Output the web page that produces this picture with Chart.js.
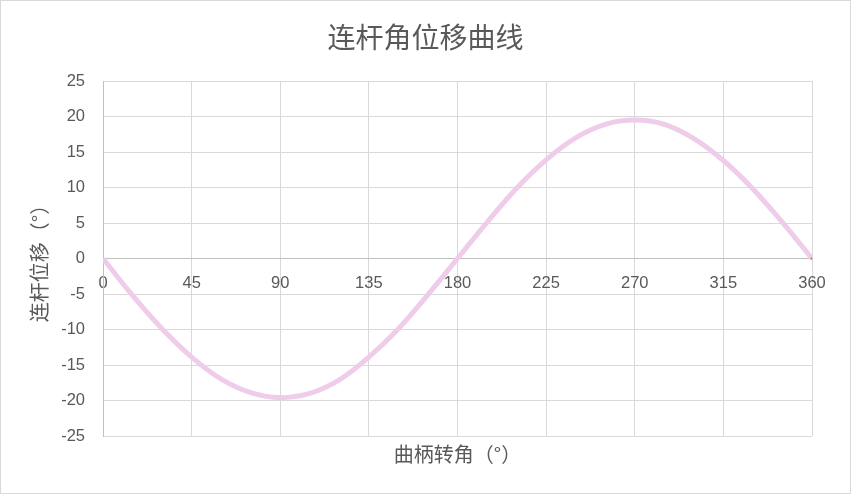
<!DOCTYPE html>
<html>
<head>
<meta charset="utf-8">
<script src="https://cdn.jsdelivr.net/npm/chart.js@4"></script>
<style>
  html, body { margin: 0; padding: 0; background: #ffffff; }
  #wrap { width: 851px; height: 494px; box-sizing: border-box; border: 1px solid #d9d9d9; position: relative; }
  canvas { display: block; }
</style>
</head>
<body>
<div id="wrap"><canvas id="linkChart" width="849" height="492"></canvas></div>
<script>
// 曲柄转角 (°) et déplacement angulaire de la bielle (°)
const crankAngles = [0, 15, 30, 45, 60, 75, 90, 105, 120, 135, 150, 165, 180,
                     195, 210, 225, 240, 255, 270, 285, 300, 315, 330, 345, 360];
const rodAngles = [0, -5.2, -9.9, -13.9, -17.0, -18.9, -19.6, -19.0, -17.1, -13.9, -9.9, -5.1, 0,
                   5.1, 9.9, 13.9, 17.0, 18.9, 19.5, 18.9, 16.9, 13.8, 9.8, 5.1, 0];
const xTicks = [0, 45, 90, 135, 180, 225, 270, 315, 360];
const yTicks = [-25, -20, -15, -10, -5, 0, 5, 10, 15, 20, 25];

const chartTitle = '连杆角位移曲线';
const textColor = '#595959';
const gridColor = '#d9d9d9';
const axisColor = '#bfbfbf';
const cjkFont = "'Noto Sans CJK SC', sans-serif";

Chart.defaults.font.family = "'Liberation Sans', 'Noto Sans CJK SC', sans-serif";
Chart.defaults.color = textColor;

// Titre centré sur toute la largeur du canvas (comme Excel)
const centeredTitle = {
    id: 'centeredTitle',
    afterDraw(chart) {
        const ctx = chart.ctx;
        ctx.save();
        ctx.font = '28px ' + cjkFont;
        ctx.fillStyle = textColor;
        ctx.textAlign = 'center';
        ctx.textBaseline = 'middle';
        ctx.fillText(chartTitle, chart.width / 2, 36);
        ctx.restore();
    }
};

const points = crankAngles.map((a, i) => ({ x: a, y: rodAngles[i] }));

new Chart(document.getElementById('linkChart'), {
    type: 'scatter',
    data: {
        datasets: [{
            label: '连杆角位移',
            data: points,
            showLine: true,
            borderColor: '#efcdea',
            borderWidth: 5,
            cubicInterpolationMode: 'monotone',
            pointRadius: points.map((p, i) => i === points.length - 1 ? 1.5 : 0),
            pointBackgroundColor: '#f4735b',
            pointBorderWidth: 0
        }]
    },
    options: {
        responsive: false,
        animation: false,
        layout: { padding: { top: 80, left: 22, right: 38, bottom: 25 } },
        plugins: {
            legend: { display: false },
            tooltip: { enabled: false },
            title: { display: false }
        },
        scales: {
            x: {
                type: 'linear',
                position: { y: 0 },
                min: 0,
                max: 360,
                afterBuildTicks: axis => { axis.ticks = xTicks.map(v => ({ value: v })); },
                grid: { color: gridColor, drawTicks: false },
                border: { color: axisColor },
                ticks: { color: textColor, font: { size: 16.5 }, padding: 15, maxRotation: 0 }
            },
            x2: {
                type: 'linear',
                position: 'bottom',
                min: 0,
                max: 360,
                grid: { display: false, drawTicks: false },
                border: { display: false },
                ticks: { display: false },
                title: {
                    display: true,
                    text: '曲柄转角（°）',
                    color: textColor,
                    font: { family: cjkFont, size: 20 },
                    padding: { top: 6, bottom: 2 }
                }
            },
            y: {
                type: 'linear',
                min: -25,
                max: 25,
                afterBuildTicks: axis => { axis.ticks = yTicks.map(v => ({ value: v })); },
                afterFit: axis => { axis.width = 80; },
                grid: {
                    drawTicks: false,
                    color: ctx => (ctx.tick && ctx.tick.value === 0 ? axisColor : gridColor)
                },
                border: { color: axisColor },
                ticks: { color: textColor, font: { size: 16.5 }, padding: 18 },
                title: {
                    display: true,
                    text: '连杆位移（°）',
                    color: textColor,
                    font: { family: cjkFont, size: 20 },
                    padding: { top: 4, bottom: 4 }
                }
            }
        }
    },
    plugins: [centeredTitle]
});
</script>
</body>
</html>
